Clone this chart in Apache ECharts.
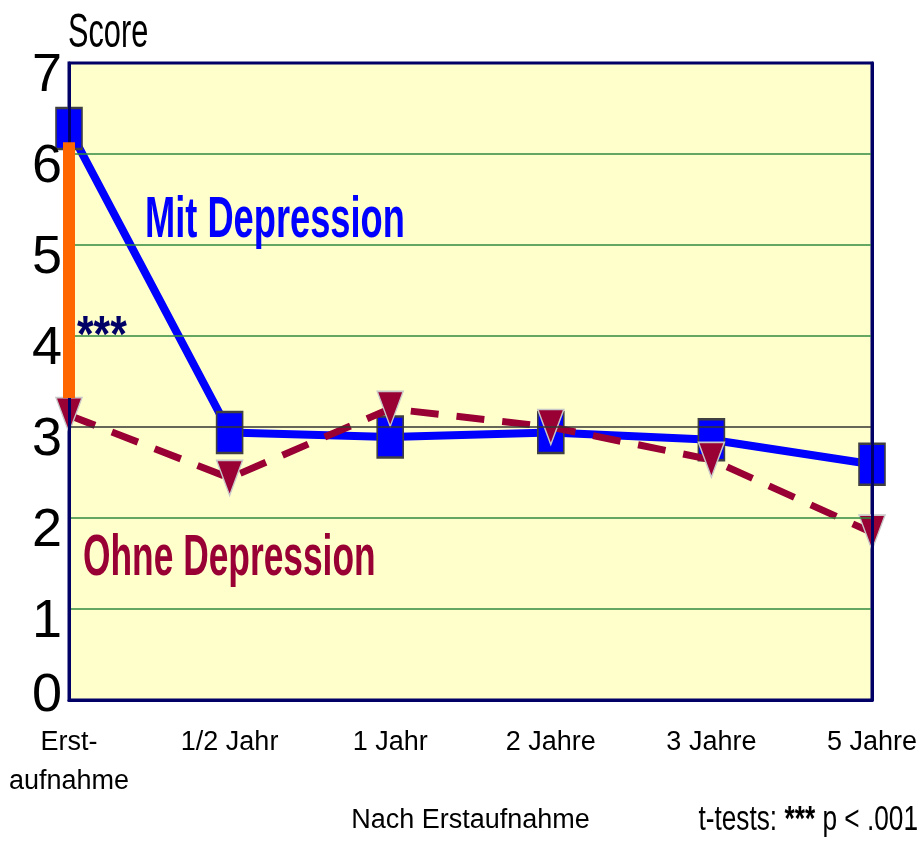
<!DOCTYPE html>
<html>
<head>
<meta charset="utf-8">
<style>
  html, body { margin: 0; padding: 0; background: #ffffff; }
  #chart { width: 922px; height: 847px; }
</style>
<script src="https://cdn.jsdelivr.net/npm/echarts@6/dist/echarts.min.js"></script>
</head>
<body>
<div id="chart"></div>
<script>
// Zeitpunkte der Messung
const categories = ['Erst-\naufnahme', '1/2 Jahr', '1 Jahr', '2 Jahre', '3 Jahre', '5 Jahre'];
// Mittlere Scores je Gruppe
const mitDepression = [6.28, 2.94, 2.89, 2.94, 2.86, 2.59];
const ohneDepression = [3.13, 2.44, 3.20, 3.00, 2.64, 1.84];
// Signifikanzbalken bei Erstaufnahme (von / bis)
const sigBar = [6.13, 3.32];
// Score-Achse
const yTicks = [0, 1, 2, 3, 4, 5, 6, 7];

const NAVY = '#000066';
const SANS = '"Liberation Sans", Arial, sans-serif';
const GREEN = '#2f8a3f';

const chart = echarts.init(document.getElementById('chart'), null, { renderer: 'canvas' });

const option = {
  animation: false,
  backgroundColor: '#ffffff',
  grid: {
    left: 69, right: 50, top: 63, bottom: 147,
    show: true,
    backgroundColor: '#FFFFCC',
    borderColor: NAVY,
    borderWidth: 3
  },
  xAxis: {
    type: 'category',
    data: categories,
    boundaryGap: false,
    name: 'Nach Erstaufnahme',
    nameLocation: 'middle',
    nameGap: 86,
    nameTextStyle: { fontFamily: SANS, fontSize: 27, color: '#000', lineHeight: 30 },
    axisLine: { show: true, lineStyle: { color: NAVY, width: 3 } },
    axisTick: { show: false },
    splitLine: { show: false },
    axisLabel: {
      fontFamily: SANS, fontSize: 27, color: '#000', lineHeight: 39,
      margin: 23, interval: 0
    },
    z: 5
  },
  yAxis: [
    {
      type: 'value',
      min: yTicks[0], max: yTicks[yTicks.length - 1], interval: 1,
      position: 'left',
      axisLine: { show: true, lineStyle: { color: NAVY, width: 3 } },
      axisTick: { show: false },
      splitLine: { show: false },
      axisLabel: {
        margin: 7,
        formatter: function (v) { return v === 0 ? '{z|' + v + '}' : '{d|' + v + '}'; },
        rich: {
          d: { fontFamily: SANS, fontSize: 54, color: '#000', padding: [26, 0, 0, 0] },
          z: { fontFamily: SANS, fontSize: 54, color: '#000', padding: [0, 0, 8, 0] }
        }
      },
      z: 5
    },
    {
      type: 'value',
      min: yTicks[0], max: yTicks[yTicks.length - 1], interval: 1,
      position: 'right',
      axisLine: { show: true, lineStyle: { color: NAVY, width: 3 } },
      axisTick: { show: false },
      axisLabel: { show: false },
      splitLine: {
        show: true,
        showMinLine: false,
        showMaxLine: false,
        lineStyle: { color: [GREEN, GREEN, '#333333', GREEN, GREEN, GREEN], width: 1.5 }
      },
      z: 5
    }
  ],
  series: [
    {
      name: 'Mit Depression',
      type: 'line',
      data: mitDepression,
      yAxisIndex: 0,
      symbol: 'rect',
      symbolSize: [26, 41],
      showAllSymbol: true,
      lineStyle: { color: '#0000FF', width: 8 },
      itemStyle: { color: '#0000FF', borderColor: '#404040', borderWidth: 2 },
      z: 2
    },
    {
      name: 'Ohne Depression',
      type: 'line',
      data: ohneDepression,
      yAxisIndex: 0,
      symbol: 'triangle',
      symbolRotate: 180,
      symbolSize: [26, 35],
      showAllSymbol: true,
      lineStyle: { color: '#990033', width: 7, type: [28, 18] },
      itemStyle: { color: '#990033', borderColor: '#c8c8c8', borderWidth: 1.5 },
      z: 3
    },
    {
      name: 'Signifikanz',
      type: 'line',
      data: [[0, sigBar[0]], [0, sigBar[1]]],
      yAxisIndex: 0,
      symbol: 'none',
      lineStyle: { color: '#FF6600', width: 12, cap: 'butt' },
      silent: true,
      z: 10
    }
  ],
  graphic: [
    {
      type: 'text', x: 68, y: 34, scaleX: 0.64, z: 20,
      style: { text: 'Score', fontFamily: SANS, fontSize: 48, fill: '#000', align: 'left', verticalAlign: 'middle' }
    },
    {
      type: 'text', x: 145, y: 221, scaleX: 0.625, z: 20,
      style: { text: 'Mit Depression', fontFamily: SANS, fontWeight: 'bold', fontSize: 58, fill: '#0000FF', align: 'left', verticalAlign: 'middle' }
    },
    {
      type: 'text', x: 83, y: 559, scaleX: 0.62, z: 20,
      style: { text: 'Ohne Depression', fontFamily: SANS, fontWeight: 'bold', fontSize: 57, fill: '#990033', align: 'left', verticalAlign: 'middle' }
    },
    {
      type: 'text', x: 77, y: 338, scaleX: 0.82, z: 20,
      style: { text: '***', fontFamily: SANS, fontWeight: 'bold', fontSize: 52, fill: NAVY, align: 'left', verticalAlign: 'middle' }
    },
    {
      type: 'text', x: 918, y: 820, scaleX: 0.75, z: 20,
      style: {
        text: '{n|t-tests: }{b|***}{n| p < .001}',
        align: 'right', verticalAlign: 'middle',
        rich: {
          n: { fontFamily: SANS, fontSize: 35, fill: '#000' },
          b: { fontFamily: SANS, fontSize: 35, fontWeight: 'bold', fill: '#000' }
        }
      }
    }
  ]
};

chart.setOption(option);
</script>
</body>
</html>
